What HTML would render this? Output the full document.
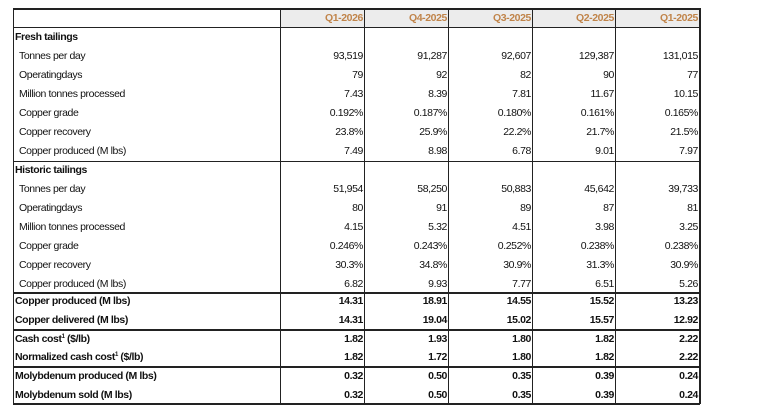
<!DOCTYPE html>
<html><head><meta charset="utf-8"><style>
body{margin:0;width:768px;height:416px;background:#fff;position:relative;overflow:hidden;font-family:"Liberation Sans",Arial,sans-serif;font-size:10.5px;color:#111;letter-spacing:-0.4px}
.h{position:absolute;background:#222;height:1px}
.v{position:absolute;background:#222;width:1px;top:8px;height:396px}
.t{position:absolute;white-space:nowrap;line-height:14px;height:14px}
.r{position:absolute;white-space:nowrap;line-height:14px;text-align:right;width:80px}
.b{font-weight:bold}
sup{font-size:6px;line-height:0;vertical-align:4px}
</style></head><body>
<div style="position:absolute;left:280px;top:8px;width:419px;height:19px;background:#ececec"></div>
<div class="h" style="left:13px;width:687px;top:8px;height:2px"></div>
<div class="h" style="left:13px;width:687px;top:27px"></div>
<div class="h" style="left:13px;width:687px;top:161px"></div>
<div class="h" style="left:13px;width:687px;top:292px;height:2px"></div>
<div class="h" style="left:13px;width:687px;top:329px;height:2px"></div>
<div class="h" style="left:13px;width:687px;top:366px;height:2px"></div>
<div class="h" style="left:13px;width:687px;top:403px;height:2px"></div>
<div class="v" style="left:13px"></div>
<div class="v" style="left:280px"></div>
<div class="v" style="left:364px"></div>
<div class="v" style="left:448px"></div>
<div class="v" style="left:532px"></div>
<div class="v" style="left:615px"></div>
<div class="v" style="left:699px;width:2px"></div>
<div id="c"></div>
<script>
var H=["Q1-2026","Q4-2025","Q3-2025","Q2-2025","Q1-2025"];
var R=[363,447,531,614,698];
var rows=[
["Fresh tailings",37,1,null,1],
["Tonnes per day",56,0,["93,519","91,287","92,607","129,387","131,015"]],
["Operatingdays",75,0,["79","92","82","90","77"]],
["Million tonnes processed",94,0,["7.43","8.39","7.81","11.67","10.15"]],
["Copper grade",113,0,["0.192%","0.187%","0.180%","0.161%","0.165%"]],
["Copper recovery",132,0,["23.8%","25.9%","22.2%","21.7%","21.5%"]],
["Copper produced (M lbs)",151,0,["7.49","8.98","6.78","9.01","7.97"]],
["Historic tailings",170,1,null,1],
["Tonnes per day",189,0,["51,954","58,250","50,883","45,642","39,733"]],
["Operatingdays",208,0,["80","91","89","87","81"]],
["Million tonnes processed",227,0,["4.15","5.32","4.51","3.98","3.25"]],
["Copper grade",246,0,["0.246%","0.243%","0.252%","0.238%","0.238%"]],
["Copper recovery",265,0,["30.3%","34.8%","30.9%","31.3%","30.9%"]],
["Copper produced (M lbs)",284,0,["6.82","9.93","7.77","6.51","5.26"]],
["Copper produced (M lbs)",301,1,["14.31","18.91","14.55","15.52","13.23"],1],
["Copper delivered (M lbs)",320,1,["14.31","19.04","15.02","15.57","12.92"],1],
["Cash cost<sup>1</sup> ($/lb)",339,1,["1.82","1.93","1.80","1.82","2.22"],1],
["Normalized cash cost<sup>1</sup> ($/lb)",357,1,["1.82","1.72","1.80","1.82","2.22"],1],
["Molybdenum produced (M lbs)",376,1,["0.32","0.50","0.35","0.39","0.24"],1],
["Molybdenum sold (M lbs)",395,1,["0.32","0.50","0.35","0.39","0.24"],1]];
var s="";
H.forEach(function(h,i){s+='<div class="r b" style="top:11px;left:'+(R[i]-80)+'px;color:#c0844a">'+h+'</div>';});
rows.forEach(function(r){
var x=r[4]?15:19;
s+='<div class="t'+(r[2]?' b':'')+'" style="top:'+(r[1]-7)+'px;left:'+x+'px">'+r[0]+'</div>';
if(r[3])r[3].forEach(function(v,i){s+='<div class="r'+(r[2]?' b':'')+'" style="top:'+(r[1]-7)+'px;left:'+(R[i]-80)+'px">'+v+'</div>';});
});
document.getElementById("c").innerHTML=s;
</script>
</body></html>
